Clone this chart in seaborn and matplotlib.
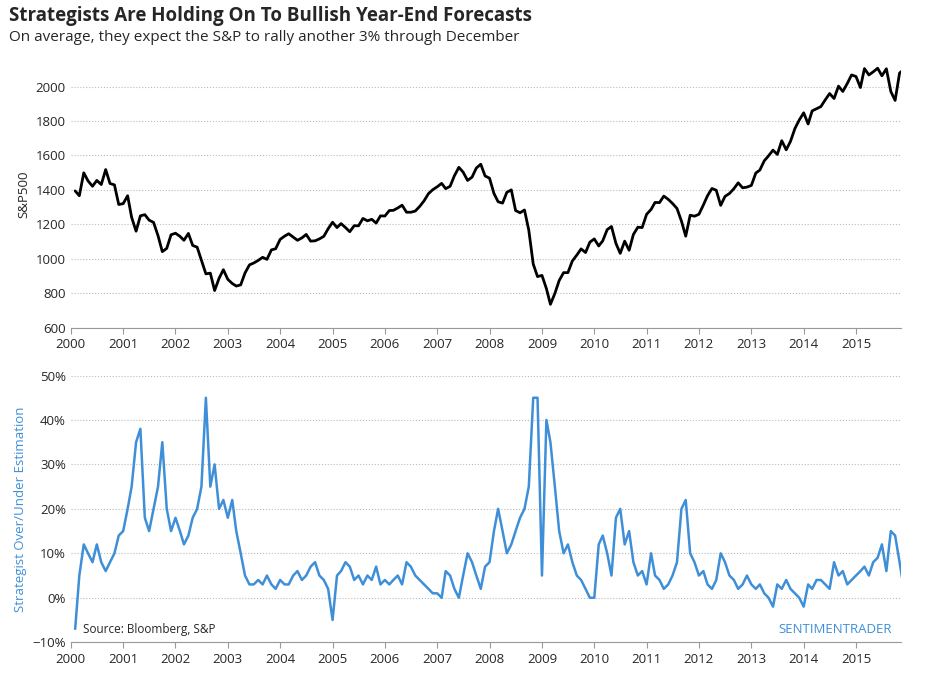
import pandas as pd
import numpy as np
import matplotlib
matplotlib.use('Agg')
import matplotlib.pyplot as plt
import matplotlib.dates as mdates
import matplotlib.ticker as mticker
import seaborn as sns

# approximate month-end S&P 500 levels
spx_2000 = [1394, 1366, 1499, 1452, 1421, 1455, 1431, 1518, 1437, 1429, 1315, 1320]
spx_2001 = [1366, 1240, 1160, 1249, 1256, 1224, 1211, 1134, 1041, 1060, 1139, 1148]
spx_2002 = [1130, 1107, 1147, 1077, 1067, 990, 912, 916, 815, 886, 936, 880]
spx_2003 = [856, 841, 848, 917, 964, 975, 990, 1008, 996, 1051, 1058, 1112]
spx_2004 = [1131, 1145, 1126, 1107, 1121, 1141, 1102, 1104, 1115, 1130, 1174, 1212]
spx_2005 = [1181, 1204, 1181, 1157, 1192, 1191, 1234, 1220, 1229, 1207, 1249, 1248]
spx_2006 = [1280, 1281, 1295, 1311, 1270, 1270, 1277, 1304, 1336, 1378, 1401, 1418]
spx_2007 = [1438, 1407, 1421, 1482, 1531, 1503, 1455, 1474, 1527, 1549, 1481, 1468]
spx_2008 = [1379, 1331, 1323, 1386, 1400, 1280, 1267, 1283, 1166, 969, 896, 903]
spx_2009 = [826, 735, 798, 873, 919, 919, 987, 1021, 1057, 1036, 1096, 1115]
spx_2010 = [1074, 1104, 1169, 1187, 1089, 1031, 1102, 1049, 1141, 1183, 1181, 1258]
spx_2011 = [1286, 1327, 1326, 1364, 1345, 1321, 1292, 1219, 1131, 1253, 1247, 1258]
spx_2012 = [1312, 1366, 1408, 1398, 1310, 1362, 1379, 1407, 1441, 1412, 1416, 1426]
spx_2013 = [1498, 1515, 1569, 1598, 1631, 1606, 1686, 1633, 1682, 1757, 1806, 1848]
spx_2014 = [1783, 1859, 1872, 1884, 1924, 1960, 1931, 2003, 1972, 2018, 2068, 2059]
spx_2015 = [1995, 2105, 2068, 2086, 2107, 2063, 2104, 1972, 1920, 2079, 2100]

# strategist over/under estimation, percent
est_2000 = [-7, 5, 12, 10, 8, 12, 8, 6, 8, 10, 14, 15]
est_2001 = [20, 25, 35, 38, 18, 15, 20, 25, 35, 20, 15, 18]
est_2002 = [15, 12, 14, 18, 20, 25, 45, 25, 30, 20, 22, 18]
est_2003 = [22, 15, 10, 5, 3, 3, 4, 3, 5, 3, 2, 4]
est_2004 = [3, 3, 5, 6, 4, 5, 7, 8, 5, 4, 2, -5]
est_2005 = [5, 6, 8, 7, 4, 5, 3, 5, 4, 7, 3, 4]
est_2006 = [3, 4, 5, 3, 8, 7, 5, 4, 3, 2, 1, 1]
est_2007 = [0, 6, 5, 2, 0, 5, 10, 8, 5, 2, 7, 8]
est_2008 = [15, 20, 15, 10, 12, 15, 18, 20, 25, 45, 45, 5]
est_2009 = [40, 35, 25, 15, 10, 12, 8, 5, 4, 2, 0, 0]
est_2010 = [12, 14, 10, 5, 18, 20, 12, 15, 8, 5, 6, 3]
est_2011 = [10, 5, 4, 2, 3, 5, 8, 20, 22, 10, 8, 5]
est_2012 = [6, 3, 2, 4, 10, 8, 5, 4, 2, 3, 5, 3]
est_2013 = [2, 3, 1, 0, -2, 3, 2, 4, 2, 1, 0, -2]
est_2014 = [3, 2, 4, 4, 3, 2, 8, 5, 6, 3, 4, 5]
est_2015 = [6, 7, 5, 8, 9, 12, 6, 15, 14, 8, 2]

spx = sum([spx_2000, spx_2001, spx_2002, spx_2003, spx_2004, spx_2005, spx_2006, spx_2007,
           spx_2008, spx_2009, spx_2010, spx_2011, spx_2012, spx_2013, spx_2014, spx_2015], [])
est = sum([est_2000, est_2001, est_2002, est_2003, est_2004, est_2005, est_2006, est_2007,
           est_2008, est_2009, est_2010, est_2011, est_2012, est_2013, est_2014, est_2015], [])

df = pd.DataFrame({
    'Date': pd.date_range('2000-01-03', periods=len(spx), freq='MS'),
    'SPX': spx,
    'Est': np.array(est) / 100.0,
})

sns.set_style('white')
plt.rcParams['font.family'] = ['Open Sans', 'DejaVu Sans']

fig, (ax1, ax2) = plt.subplots(2, 1, figsize=(9.43, 6.76), dpi=100)
fig.subplots_adjust(left=0.075, right=0.955, top=0.91, bottom=0.05, hspace=0.18)

sns.lineplot(data=df, x='Date', y='SPX', ax=ax1, color='black', linewidth=2)
sns.lineplot(data=df, x='Date', y='Est', ax=ax2, color='#3f8fd8', linewidth=1.8)

xmin, xmax = pd.Timestamp('2000-01-01'), pd.Timestamp('2015-11-08')
for ax in (ax1, ax2):
    ax.set_xlim(xmin, xmax)
    ax.xaxis.set_major_locator(mdates.YearLocator())
    ax.xaxis.set_major_formatter(mdates.DateFormatter('%Y'))
    ax.grid(axis='y', color='#bbbbbb', linestyle=':', linewidth=0.8)
    for s in ('top', 'right', 'left'):
        ax.spines[s].set_visible(False)
    ax.spines['bottom'].set_color('#999999')
    ax.tick_params(axis='x', bottom=True, length=4, color='#999999', labelsize=9.5)
    ax.tick_params(axis='y', labelsize=9.5, length=0)
    ax.set_xlabel('')

ax1.set_ylim(600, 2150)
ax1.set_yticks(range(600, 2001, 200))
ax1.set_ylabel('S&P500', fontsize=9.5)

ax2.set_ylim(-0.10, 0.50)
ax2.set_yticks(np.arange(-0.1, 0.51, 0.1))
ax2.yaxis.set_major_formatter(mticker.PercentFormatter(1.0, decimals=0))
ax2.set_ylabel('Strategist Over/Under Estimation', fontsize=9.5, color='#3f8fd8')

ax2.text(0.015, 0.035, 'Source: Bloomberg, S&P', transform=ax2.transAxes, fontsize=8.5)
ax2.text(0.99, 0.035, 'SENTIMENTRADER', transform=ax2.transAxes, ha='right',
         fontsize=9.5, color='#3f8fd8')

fig.text(0.01, 0.977, 'Strategists Are Holding On To Bullish Year-End Forecasts',
         fontsize=13.5, fontweight='bold', va='center')
fig.text(0.01, 0.945, 'On average, they expect the S&P to rally another 3% through December',
         fontsize=11, va='center')

fig.savefig('out.png', dpi=100)
